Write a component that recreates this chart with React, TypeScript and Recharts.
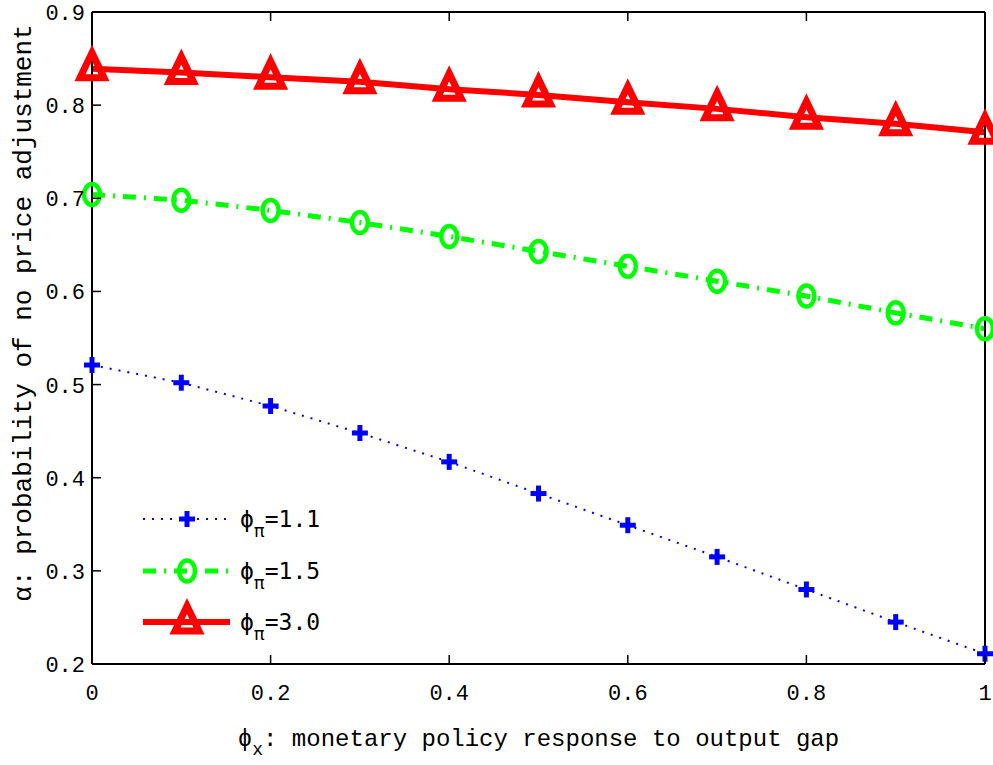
import React from 'react';
import { LineChart, Line, XAxis, YAxis } from 'recharts';

const PHI_X = [0, 0.1, 0.2, 0.3, 0.4, 0.5, 0.6, 0.7, 0.8, 0.9, 1];
const ALPHA_PHI_PI_11 = [0.521, 0.502, 0.477, 0.448, 0.417, 0.383, 0.349, 0.315, 0.28, 0.245, 0.211];
const ALPHA_PHI_PI_15 = [0.704, 0.698, 0.687, 0.674, 0.659, 0.643, 0.627, 0.611, 0.595, 0.577, 0.56];
const ALPHA_PHI_PI_30 = [0.839, 0.835, 0.83, 0.825, 0.817, 0.811, 0.803, 0.796, 0.787, 0.78, 0.771];
const X_TICKS = [0, 0.2, 0.4, 0.6, 0.8, 1];
const Y_TICKS = [0.2, 0.3, 0.4, 0.5, 0.6, 0.7, 0.8, 0.9];
const SERIES_LABELS = ['1.1', '1.5', '3.0'];

const data = PHI_X.map((x, i) => ({
  x,
  p11: ALPHA_PHI_PI_11[i],
  p15: ALPHA_PHI_PI_15[i],
  p30: ALPHA_PHI_PI_30[i],
}));

// plot box in page pixels (chart is pinned to the top-left corner)
const PLOT = { left: 92, right: 985, top: 12, bottom: 664 };
const MONO = '"Liberation Mono", "DejaVu Sans Mono", monospace';
const LEGEND_FONT = '"DejaVu Sans Mono", monospace';

const BLUE = '#0000ff';
const GREEN = '#00ff00';
const RED = '#ff0000';

const Plus = ({ cx, cy }: { cx: number; cy: number }) => (
  <g>
    <line x1={cx - 8} x2={cx + 8} y1={cy} y2={cy} stroke={BLUE} strokeWidth={5} />
    <line x1={cx} x2={cx} y1={cy - 8} y2={cy + 8} stroke={BLUE} strokeWidth={5} />
  </g>
);

const Ring = ({ cx, cy }: { cx: number; cy: number }) => (
  <ellipse cx={cx} cy={cy} rx={8} ry={10.5} fill="none" stroke={GREEN} strokeWidth={4.5} />
);

const Tri = ({ cx, cy }: { cx: number; cy: number }) => (
  <polygon
    points={`${cx},${cy - 16} ${cx + 12},${cy + 9} ${cx - 12},${cy + 9}`}
    fill="none"
    stroke={RED}
    strokeWidth={7}
    strokeLinejoin="miter"
  />
);

const fmtX = (v: number) => (v === 0 || v === 1 ? String(v) : v.toFixed(1));

const BottomTick = ({ x, payload }: any) => (
  <g>
    <line x1={x} x2={x} y1={PLOT.bottom} y2={PLOT.bottom - 9} stroke="#000" strokeWidth={1.5} />
    <text x={x} y={PLOT.bottom + 36} textAnchor="middle" fontFamily={MONO} fontSize={22} fill="#000">
      {fmtX(payload.value)}
    </text>
  </g>
);

const TopTick = ({ x }: any) => (
  <line x1={x} x2={x} y1={PLOT.top} y2={PLOT.top + 9} stroke="#000" strokeWidth={1.5} />
);

const LeftTick = ({ y, payload }: any) => (
  <g>
    <line x1={PLOT.left} x2={PLOT.left + 9} y1={y} y2={y} stroke="#000" strokeWidth={1.5} />
    <text x={PLOT.left - 7} y={y + 8} textAnchor="end" fontFamily={MONO} fontSize={22} fill="#000">
      {payload.value.toFixed(1)}
    </text>
  </g>
);

const RightTick = ({ y }: any) => (
  <line x1={PLOT.right - 9} x2={PLOT.right} y1={y} y2={y} stroke="#000" strokeWidth={1.5} />
);

const XTitle = ({ viewBox }: any) => {
  const cx = viewBox.x + viewBox.width / 2;
  return (
    <text x={cx} y={viewBox.y + 82} textAnchor="middle" fontFamily={MONO} fontSize={24} fill="#000">
      <tspan>ϕ</tspan>
      <tspan fontSize={18} dy={9}>x</tspan>
      <tspan dy={-9}>: monetary policy response to output gap</tspan>
    </text>
  );
};

const YTitle = ({ viewBox }: any) => {
  const x = viewBox.x + 24;
  const y = 313;
  return (
    <text
      x={x}
      y={y}
      transform={`rotate(-90 ${x} ${y})`}
      textAnchor="middle"
      dominantBaseline="central"
      fontFamily={MONO}
      fontSize={26}
      fill="#000"
    >
      α: probability of no price adjustment
    </text>
  );
};

const LegendBox = () => {
  const rows = [
    { y: 27, color: BLUE, width: 2, dash: '2 7', Marker: Plus },
    { y: 79, color: GREEN, width: 5, dash: '13 8 2 8', Marker: Ring },
    { y: 130, color: RED, width: 6, dash: undefined, Marker: Tri },
  ];
  return (
    <svg width={250} height={168} style={{ position: 'absolute', left: 130, top: 492 }}>
      {rows.map((r, i) => (
        <g key={`lg-${i}`}>
          <line x1={13} x2={100} y1={r.y} y2={r.y} stroke={r.color} strokeWidth={r.width} strokeDasharray={r.dash} />
          <r.Marker cx={57} cy={r.y} />
          <text x={110} y={r.y + 8} fontFamily={LEGEND_FONT} fontSize={23} fill="#000">
            <tspan>ϕ</tspan>
            <tspan fontSize={18} dy={10}>π</tspan>
            <tspan dy={-10}>={SERIES_LABELS[i]}</tspan>
          </text>
        </g>
      ))}
    </svg>
  );
};

export default function App() {
  return (
    <div style={{ position: 'absolute', left: 0, top: 0, width: 993, height: 765, background: '#fff' }}>
      <LineChart
        width={993}
        height={765}
        data={data}
        margin={{ top: PLOT.top, right: 993 - PLOT.right, left: 0, bottom: 0 }}
      >
        <XAxis
          dataKey="x"
          type="number"
          domain={[0, 1]}
          ticks={X_TICKS}
          height={765 - PLOT.bottom}
          axisLine={{ stroke: '#000', strokeWidth: 2 }}
          tickLine={false}
          tick={<BottomTick />}
          interval={0}
          label={<XTitle />}
        />
        <XAxis
          xAxisId="top"
          dataKey="x"
          type="number"
          orientation="top"
          mirror
          domain={[0, 1]}
          ticks={X_TICKS}
          axisLine={{ stroke: '#000', strokeWidth: 2 }}
          tickLine={false}
          tick={<TopTick />}
          interval={0}
        />
        <YAxis
          type="number"
          domain={[0.2, 0.9]}
          ticks={Y_TICKS}
          width={PLOT.left}
          axisLine={{ stroke: '#000', strokeWidth: 2 }}
          tickLine={false}
          tick={<LeftTick />}
          interval={0}
          label={<YTitle />}
        />
        <YAxis
          yAxisId="right"
          type="number"
          orientation="right"
          mirror
          domain={[0.2, 0.9]}
          ticks={Y_TICKS}
          axisLine={{ stroke: '#000', strokeWidth: 2 }}
          tickLine={false}
          tick={<RightTick />}
          interval={0}
        />
        <Line
          dataKey="p11"
          name="ϕπ=1.1"
          stroke={BLUE}
          strokeWidth={2}
          strokeDasharray="2 7"
          isAnimationActive={false}
          dot={(p: any) => <Plus key={`b-${p.index}`} cx={p.cx} cy={p.cy} />}
          activeDot={false}
        />
        <Line
          dataKey="p15"
          name="ϕπ=1.5"
          stroke={GREEN}
          strokeWidth={5}
          strokeDasharray="13 8 2 8"
          isAnimationActive={false}
          dot={(p: any) => <Ring key={`g-${p.index}`} cx={p.cx} cy={p.cy} />}
          activeDot={false}
        />
        <Line
          dataKey="p30"
          name="ϕπ=3.0"
          stroke={RED}
          strokeWidth={6}
          isAnimationActive={false}
          dot={(p: any) => <Tri key={`r-${p.index}`} cx={p.cx} cy={p.cy} />}
          activeDot={false}
        />
      </LineChart>
      <LegendBox />
    </div>
  );
}
